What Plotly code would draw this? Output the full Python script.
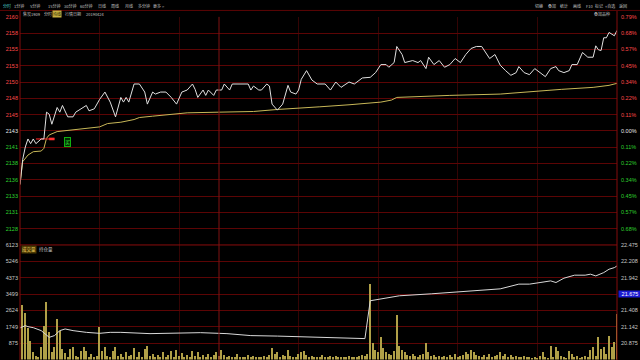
import plotly.graph_objects as go

W, H = 640, 360

# ------------------------------------------------------------------ data
prev_settle = 2143.5          # 0.00% line
pct_step = 0.1134             # percent per grid row
n_rows_up = 7

price_minutes = [0, 1, 2, 3, 4, 5, 6, 8, 9, 10, 11, 12, 14, 15, 16, 17, 18, 20, 21, 23,
                 25, 26, 28, 30, 32, 34, 36, 38, 39, 40, 41, 43, 45, 47, 48, 50, 51, 53, 55, 57,
                 59, 61, 63, 65, 66, 67, 69, 70, 71, 73, 74, 76, 77, 79, 80, 86, 87, 88, 90, 91,
                 93, 94, 95, 97, 99, 101, 102, 104, 105, 106, 108, 110, 112, 115, 117, 119, 121, 124, 126, 129,
                 132, 134, 136, 138, 139, 141, 142, 144, 145, 148, 150, 151, 153, 154, 156, 158, 160, 162, 164, 166,
                 168, 170, 172, 174, 175, 177, 179, 181, 183, 185, 187, 188, 190, 192, 194, 196, 198, 200, 202, 203,
                 205, 207, 208, 210, 212, 214, 216, 217, 218, 219, 220, 221, 222, 224, 225]
price_values = [2135.5, 2139.2, 2141.1, 2142.3, 2141.6, 2142.3, 2141.6, 2142.3, 2142.3, 2146.3,
                2146.0, 2144.5, 2147.0, 2146.3, 2147.3, 2146.3, 2145.6, 2145.6, 2146.3, 2146.8,
                2147.3, 2146.5, 2146.8, 2148.2, 2149.3, 2147.8, 2145.6, 2148.5, 2147.8, 2148.5,
                2147.8, 2150.5, 2150.5, 2149.3, 2147.5, 2149.3, 2149.0, 2149.3, 2149.3, 2148.5,
                2147.5, 2149.3, 2149.6, 2150.5, 2149.7, 2148.5, 2149.6, 2148.8, 2149.6, 2148.8,
                2149.6, 2149.6, 2150.5, 2149.6, 2150.5, 2150.5, 2149.6, 2150.2, 2149.6, 2149.6,
                2150.5, 2150.2, 2147.5, 2146.6, 2147.5, 2150.3, 2149.3, 2149.0, 2149.6, 2151.2,
                2152.5, 2151.1, 2150.5, 2150.5, 2149.6, 2150.8, 2150.0, 2150.8, 2150.5, 2151.4,
                2151.5, 2152.2, 2153.4, 2153.4, 2153.0, 2153.7, 2156.1, 2154.9, 2153.7, 2154.0,
                2153.7, 2154.0, 2152.8, 2154.5, 2153.4, 2154.0, 2153.0, 2153.4, 2154.3, 2153.7,
                2154.9, 2155.8, 2156.1, 2156.1, 2155.5, 2154.3, 2154.9, 2153.3, 2152.5, 2151.8,
                2152.2, 2153.1, 2152.2, 2151.9, 2152.8, 2152.2, 2151.6, 2152.8, 2153.1, 2152.5,
                2152.2, 2152.5, 2153.4, 2153.4, 2155.2, 2154.5, 2154.5, 2156.2, 2155.6, 2155.5,
                2157.4, 2157.4, 2158.2, 2157.7, 2158.5]

avg_minutes = [0, 1, 3, 4, 5, 8, 9, 10, 11, 14, 19, 25, 30, 33, 38, 43, 45, 50, 63, 75,
               88, 97, 107, 113, 124, 136, 140, 142, 162, 181, 204, 216, 222, 225]
avg_values = [2135.5, 2138.9, 2139.9, 2140.1, 2140.4, 2140.5, 2140.9, 2142.4, 2142.9, 2143.4,
              2143.6, 2143.8, 2144.1, 2144.6, 2144.8, 2145.2, 2145.5, 2145.7, 2146.2, 2146.3,
              2146.4, 2146.7, 2146.9, 2147.1, 2147.4, 2147.8, 2148.1, 2148.5, 2148.8, 2149.0,
              2149.7, 2150.0, 2150.3, 2150.6]

# volume per minute, minutes 0..225
volume_values = [
    0, 2926, 2463, 1702, 1011, 388, 213, 120, 654, 1809,
    3086, 1452, 388, 654, 2165, 1543, 569, 335, 150, 585,
    654, 180, 120, 479, 654, 479, 160, 319, 120, 200,
    1756, 479, 654, 213, 150, 479, 654, 213, 300, 120,
    420, 180, 260, 620, 150, 380, 120, 560, 700, 200,
    310, 140, 240, 120, 380, 160, 220, 450, 120, 520,
    180, 340, 120, 260, 150, 480, 200, 380, 120, 220,
    160, 300, 120, 240, 400, 180, 520, 260, 120, 200,
    150, 120, 280, 120, 160, 120, 220, 120, 180, 120,
    140, 120, 200, 120, 240, 640, 300, 420, 160, 250,
    180, 520, 200, 120, 160, 300, 380, 480, 260, 140,
    200, 120, 160, 120, 220, 120, 140, 200, 120, 180,
    120, 160, 120, 140, 200, 120, 150, 120, 180, 260,
    200, 300, 4040, 900, 520, 380, 1200, 600, 420, 300,
    260, 480, 2400, 700, 520, 380, 260, 180, 300, 200,
    160, 240, 300, 900, 420, 200, 260, 160, 200, 120,
    180, 120, 240, 160, 300, 120, 200, 260, 420, 300,
    520, 380, 260, 200, 160, 240, 120, 300, 160, 200,
    260, 420, 200, 300, 160, 240, 120, 200, 160, 120,
    180, 120, 122, 100, 150, 100, 213, 388, 120, 100,
    745, 150, 692, 479, 213, 120, 100, 479, 319, 120,
    213, 100, 150, 213, 120, 516, 654, 200, 1224, 569,
    654, 300, 1277, 654, 920, 2431]
volume_minutes = list(range(len(volume_values)))

oi_minutes = [0, 2, 3, 5, 8, 10, 11, 13, 15, 17, 20, 25, 30, 34, 38, 49, 60, 68, 78, 87,
              97, 106, 115, 121, 130, 132, 136, 143, 155, 170, 181, 188, 192, 196, 200, 202, 205,
              209, 213, 215, 217, 220, 222, 224, 225]
oi_values = [21.123, 21.160, 21.144, 21.127, 21.079, 20.998, 20.970, 20.998, 21.079, 21.106,
             21.079, 21.051, 21.035, 21.051, 21.051, 21.030, 21.040, 21.046, 21.030, 20.998,
             20.990, 20.981, 20.975, 20.965, 20.949, 21.566, 21.598, 21.647, 21.679, 21.728,
             21.760, 21.837, 21.837, 21.863, 21.890, 21.863, 21.934, 21.983, 21.983, 21.999,
             21.971, 22.025, 22.080, 22.106, 22.134]

price_tick_labels = ["2160", "2158", "2155", "2153", "2150", "2148", "2145", "2143",
                     "2141", "2138", "2136", "2133", "2131", "2128"]
pct_tick_labels = ["0.79%", "0.68%", "0.57%", "0.45%", "0.34%", "0.22%", "0.11%", "0.00%",
                   "0.11%", "0.22%", "0.34%", "0.45%", "0.57%", "0.68%"]
vol_max = 6123
vol_tick_labels = ["6123", "5246", "4373", "3499", "2624", "1749", "875"]
oi_top, oi_step = 22.475, 0.26667
oi_tick_labels = ["22.475", "22.208", "21.942", "21.675", "21.408", "21.142", "20.875"]
oi_current_label = "21.675"

grid_minutes = [30, 60, 105, 135, 165, 195]
session_break_minute = 75
total_minutes = 225

order_minutes = [6, 13]
order_thick_minutes = [11, 13]
order_price = 2142.3
buy_minute, buy_price, buy_text = 18, 2141.9, "买"

menu_left = ["分时", "1分钟", "5分钟", "15分钟", "30分钟", "60分钟", "日线", "周线", "月线", "多分钟", "更多 >"]
menu_right = ["切换", "叠加", "统计", "画线", "F10", "标记", "+自选", "返回"]
header_items = ["焦炭1909", "分时", "均线", "行情日期", "20190424"]

# ------------------------------------------------------------------ style
RED = "#ff4a4a"
GREEN = "#2ed12e"
WHITE = "#e8e8e8"
GRID_H = "#5c0505"
GRID_V = "#340404"
FRAME = "#840c0c"
FONT = "Liberation Sans, Noto Sans CJK SC, sans-serif"
CJK = "Noto Sans CJK SC, sans-serif"


def px(x):
    return x / W


def py(y):
    return 1 - y / H


step = prev_settle * pct_step / 100.0
rows = list(range(n_rows_up, -n_rows_up, -1))  # 7 .. -6
price_ticks = [prev_settle + k * step for k in rows]


def colored(txt, k):
    c = RED if k > 0 else (WHITE if k == 0 else GREEN)
    return f"<span style='color:{c}'>{txt}</span>"


price_ticktext = [colored(t, k) for t, k in zip(price_tick_labels, rows)]
pct_ticktext = [colored(t, k) for t, k in zip(pct_tick_labels, rows)]
prange = [prev_settle - n_rows_up * step - 0.002, prev_settle + n_rows_up * step + 0.002]

vol_ticks = [vol_max * (7 - i) / 7 for i in range(7)]
oi_ticks = [oi_top - i * oi_step for i in range(7)]
oi_range = [oi_top - 7 * oi_step, oi_top + 0.0005]

fig = go.Figure()

fig.add_trace(go.Scatter(x=avg_minutes, y=avg_values, mode="lines",
                         line=dict(color="#c8b858", width=1), xaxis="x", yaxis="y",
                         hoverinfo="skip", showlegend=False))
fig.add_trace(go.Scatter(x=order_minutes, y=[order_price] * 2, mode="lines",
                         line=dict(color="#e02020", width=1.2), xaxis="x", yaxis="y",
                         hoverinfo="skip", showlegend=False))
fig.add_trace(go.Scatter(x=order_thick_minutes, y=[order_price] * 2, mode="lines",
                         line=dict(color="#ff3030", width=2.6), xaxis="x", yaxis="y",
                         hoverinfo="skip", showlegend=False))
fig.add_trace(go.Scatter(x=price_minutes, y=price_values, mode="lines",
                         line=dict(color="#e0e0e0", width=1), xaxis="x", yaxis="y",
                         hoverinfo="skip", showlegend=False))
# invisible trace to carry the percent axis
fig.add_trace(go.Scatter(x=[0], y=[prev_settle], mode="markers", marker=dict(opacity=0),
                         xaxis="x", yaxis="y2", hoverinfo="skip", showlegend=False))

fig.add_trace(go.Bar(x=volume_minutes, y=volume_values, width=0.5,
                     marker=dict(color="#b0a048", line=dict(width=0)),
                     xaxis="x2", yaxis="y3", hoverinfo="skip", showlegend=False))
fig.add_trace(go.Scatter(x=oi_minutes, y=oi_values, mode="lines",
                         line=dict(color="#d8d8d8", width=1), xaxis="x2", yaxis="y4",
                         hoverinfo="skip", showlegend=False))

xcommon = dict(range=[0, total_minutes], tickmode="array", tickvals=grid_minutes,
               showticklabels=False, ticks="", showgrid=True, gridcolor=GRID_V, gridwidth=1,
               zeroline=False, showline=False, fixedrange=True)
tickfont = dict(family=FONT, size=5.5, color="#c8c8c8")

fig.update_layout(
    width=W, height=H, margin=dict(l=0, r=0, t=0, b=0),
    paper_bgcolor="black", plot_bgcolor="black",
    bargap=0, showlegend=False,
    xaxis=dict(domain=[px(20), px(617)], anchor="y", **xcommon),
    xaxis2=dict(domain=[px(20), px(617)], anchor="y3", matches="x", **xcommon),
    yaxis=dict(domain=[py(244), py(14)], range=prange, tickmode="array",
               tickvals=price_ticks, ticktext=price_ticktext, side="left", anchor="x",
               showgrid=True, gridcolor=GRID_H, gridwidth=1, zeroline=False, ticks="",
               tickfont=tickfont, ticklabelstandoff=1, fixedrange=True),
    yaxis2=dict(overlaying="y", range=prange, tickmode="array", tickvals=price_ticks,
                ticktext=pct_ticktext, side="right", anchor="x", showgrid=False,
                zeroline=False, ticks="", tickfont=tickfont, ticklabelstandoff=3,
                fixedrange=True),
    yaxis3=dict(domain=[py(359.5), py(244)], range=[0, vol_max + 0.5], tickmode="array",
                tickvals=vol_ticks, ticktext=vol_tick_labels, side="left", anchor="x2",
                showgrid=True, gridcolor=GRID_H, gridwidth=1, zeroline=False, ticks="",
                tickfont=tickfont, ticklabelstandoff=1, fixedrange=True),
    yaxis4=dict(overlaying="y3", range=oi_range, tickmode="array", tickvals=oi_ticks,
                ticktext=oi_tick_labels, side="right", anchor="x2", showgrid=False,
                zeroline=False, ticks="", tickfont=tickfont, ticklabelstandoff=3,
                fixedrange=True),
)

shapes = []
# frame lines
shapes.append(dict(type="line", xref="paper", yref="paper", x0=0, x1=1, y0=py(7.5), y1=py(7.5),
                   line=dict(color="#5c0505", width=1)))
for xx in (20, 617):
    shapes.append(dict(type="line", xref="paper", yref="paper", x0=px(xx), x1=px(xx),
                       y0=py(8), y1=0, line=dict(color=FRAME, width=1)))
shapes.append(dict(type="line", xref="paper", yref="paper", x0=px(20), x1=px(617),
                   y0=py(244), y1=py(244), line=dict(color="#8a0c0c", width=1)))
# session break
shapes.append(dict(type="line", xref="x", yref="paper", x0=session_break_minute,
                   x1=session_break_minute, y0=0, y1=py(14),
                   line=dict(color="#801212", width=1)))
fig.update_layout(shapes=shapes)

ann = []
small = dict(family=CJK, size=4, color="#c0c0c0")
left_pos = [1, 12, 28, 46, 62, 78, 96, 109, 123, 136, 151]
for i, (t, xx) in enumerate(zip(menu_left, left_pos)):
    f = dict(small)
    if i == 0:
        f["color"] = "#4ad0d0"
    ann.append(dict(text=t, x=px(xx), y=py(3.5), xref="paper", yref="paper",
                    xanchor="left", yanchor="middle", showarrow=False, font=f))
right_pos = [533, 546, 558, 571, 584, 593, 603, 617]
for t, xx in zip(menu_right, right_pos):
    ann.append(dict(text=t, x=px(xx), y=py(3.5), xref="paper", yref="paper",
                    xanchor="left", yanchor="middle", showarrow=False, font=small))
head_pos = [21, 42, 52, 63, 84]
for i, (t, xx) in enumerate(zip(header_items, head_pos)):
    f = dict(small)
    bg = None
    if i == 2:
        f["color"] = "#202000"
        bg = "#c8b040"
    a = dict(text=t, x=px(xx), y=py(10.8), xref="paper", yref="paper",
             xanchor="left", yanchor="middle", showarrow=False, font=f)
    if bg:
        a["bgcolor"] = bg
        a["borderpad"] = 0
    ann.append(a)
ann.append(dict(text="叠加品种", x=px(592), y=py(10.8), xref="paper", yref="paper",
                xanchor="left", yanchor="middle", showarrow=False, font=small))
ann.append(dict(text="成交量", x=px(21), y=py(248.5), xref="paper", yref="paper",
                xanchor="left", yanchor="middle", showarrow=False, bgcolor="#4a3a04",
                borderpad=0, font=dict(family=CJK, size=4.5, color="#f0d060")))
ann.append(dict(text="持仓量", x=px(37), y=py(248.5), xref="paper", yref="paper",
                xanchor="left", yanchor="middle", showarrow=False,
                font=dict(family=CJK, size=4.5, color="#c8c8c8")))
ann.append(dict(text=buy_text, x=buy_minute, y=buy_price, xref="x", yref="y",
                showarrow=False, bgcolor="#002a00", bordercolor="#10b010", borderwidth=1,
                borderpad=0, font=dict(family=CJK, size=5, color="#40ff40")))
ann.append(dict(text=oi_current_label, x=px(617.5), y=oi_ticks[3], xref="paper", yref="y4",
                xanchor="left", yanchor="middle", showarrow=False, bgcolor="#1a1ad0",
                width=22, align="center", borderpad=0,
                font=dict(family=FONT, size=5.5, color="#ffffff")))
fig.update_layout(annotations=ann)

fig.write_html("out.html")
